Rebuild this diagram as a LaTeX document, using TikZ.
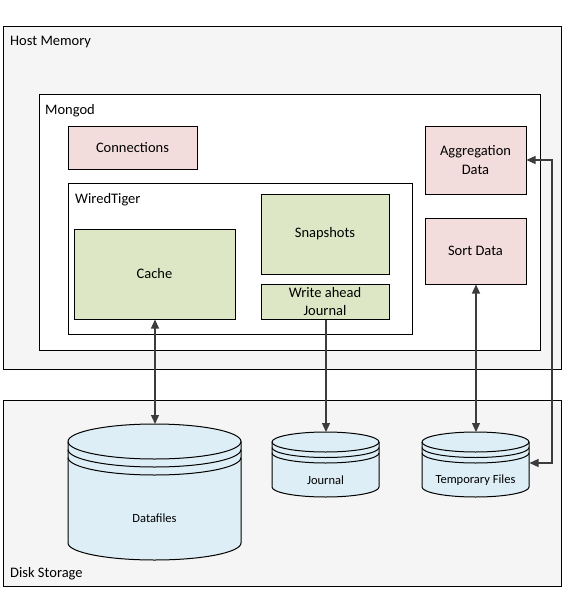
\documentclass[tikz,border=0pt]{standalone}
\usepackage{fontspec}
\setmainfont{Carlito}
\usetikzlibrary{arrows.meta}
\definecolor{outerfill}{RGB}{245,245,245}
\definecolor{pinkfill}{RGB}{242,221,220}
\definecolor{greenfill}{RGB}{221,231,197}
\definecolor{cylfill}{RGB}{222,238,246}
\definecolor{linegray}{RGB}{60,60,60}
\tikzset{
  container/.style={draw=black, line width=1pt, inner sep=0pt, anchor=north west},
  pinkbox/.style={draw=black, line width=1pt, fill=pinkfill, inner sep=0pt, align=center, font=\fontsize{14.5}{18.5}\selectfont},
  greenbox/.style={draw=black, line width=1pt, fill=greenfill, inner sep=0pt, align=center, font=\fontsize{14.5}{18.5}\selectfont},
  title/.style={anchor=base west, inner sep=0pt, font=\fontsize{14.5}{18}\selectfont},
  cyllabel/.style={inner sep=0pt, font=\fontsize{12.5}{15}\selectfont},
  cylline/.style={draw=black, line width=1pt},
  conn/.style={draw=linegray, line width=1.2pt},
  tip/.style={-{Triangle[length=9pt,width=8pt]}},
  tips/.style={{Triangle[length=9pt,width=8pt]}-{Triangle[length=9pt,width=8pt]}}
}
\begin{document}
\begin{tikzpicture}[x=1pt,y=-1pt]
\useasboundingbox (0,0) rectangle (580,594);
\fill[white] (0,0) rectangle (580,594);

% outer containers
\node[container, fill=outerfill, minimum width=558pt, minimum height=343pt] (host) at (3,26) {};
\node[container, fill=outerfill, minimum width=558pt, minimum height=186pt] (disk) at (3,400) {};
\node[title] (hostlbl) at (10,46) {Host Memory};
\node[title] (disklbl) at (10,577) {Disk Storage};

% mongod
\node[container, fill=white, minimum width=501pt, minimum height=256pt] (mongod) at (39,94) {};
\node[title] (mongodlbl) at (45,114) {Mongod};

\node[pinkbox, minimum width=129pt, minimum height=43pt] (conns) at (132.5,147.5) {Connections};
\node[pinkbox, minimum width=101pt, minimum height=68pt] (agg) at (475.5,160) {Aggregation\\Data};
\node[pinkbox, minimum width=101pt, minimum height=66pt] (sort) at (475.5,251) {Sort Data};

% wiredtiger
\node[container, fill=white, minimum width=344pt, minimum height=151pt] (wt) at (68,183) {};
\node[title] (wtlbl) at (75,203) {WiredTiger};
\node[greenbox, minimum width=161pt, minimum height=90pt] (cache) at (154.5,274) {Cache};
\node[greenbox, minimum width=128pt, minimum height=80pt] (snap) at (325,234) {Snapshots};
\node[greenbox, minimum width=128pt, minimum height=35pt] (wal) at (325,301.5) {Write ahead\\Journal};

% cylinders
% Datafiles
\fill[cylfill] (68,441.5) -- (68,543) arc[start angle=180,end angle=360,x radius=86.5pt,y radius=17pt] -- (241,441.5) arc[start angle=0,end angle=180,x radius=86.5pt,y radius=17.5pt] -- cycle;
\draw[cylline] (68,441.5) -- (68,543) arc[start angle=180,end angle=360,x radius=86.5pt,y radius=17pt] -- (241,441.5) arc[start angle=0,end angle=180,x radius=86.5pt,y radius=17.5pt] -- cycle;
\draw[cylline] (68,441.5) arc[start angle=180,end angle=360,x radius=86.5pt,y radius=17.5pt];
\draw[cylline] (68,449.5) arc[start angle=180,end angle=360,x radius=86.5pt,y radius=17.5pt];
\draw[cylline] (68,457.5) arc[start angle=180,end angle=360,x radius=86.5pt,y radius=17.5pt];
\node[cyllabel] (datafiles) at (154.5,518) {Datafiles};
\coordinate (dftop) at (155,424);

% Journal
\fill[cylfill] (272,442) -- (272,487) arc[start angle=180,end angle=360,x radius=53.5pt,y radius=10pt] -- (379,442) arc[start angle=0,end angle=180,x radius=53.5pt,y radius=10pt] -- cycle;
\draw[cylline] (272,442) -- (272,487) arc[start angle=180,end angle=360,x radius=53.5pt,y radius=10pt] -- (379,442) arc[start angle=0,end angle=180,x radius=53.5pt,y radius=10pt] -- cycle;
\draw[cylline] (272,442) arc[start angle=180,end angle=360,x radius=53.5pt,y radius=10pt];
\draw[cylline] (272,447.5) arc[start angle=180,end angle=360,x radius=53.5pt,y radius=10pt];
\draw[cylline] (272,453) arc[start angle=180,end angle=360,x radius=53.5pt,y radius=10pt];
\node[cyllabel] (journal) at (325.5,480) {Journal};
\coordinate (jtop) at (326,432);

% Temporary Files
\fill[cylfill] (422,442) -- (422,487) arc[start angle=180,end angle=360,x radius=53.5pt,y radius=10pt] -- (529,442) arc[start angle=0,end angle=180,x radius=53.5pt,y radius=10pt] -- cycle;
\draw[cylline] (422,442) -- (422,487) arc[start angle=180,end angle=360,x radius=53.5pt,y radius=10pt] -- (529,442) arc[start angle=0,end angle=180,x radius=53.5pt,y radius=10pt] -- cycle;
\draw[cylline] (422,442) arc[start angle=180,end angle=360,x radius=53.5pt,y radius=10pt];
\draw[cylline] (422,447.5) arc[start angle=180,end angle=360,x radius=53.5pt,y radius=10pt];
\draw[cylline] (422,453) arc[start angle=180,end angle=360,x radius=53.5pt,y radius=10pt];
\node[cyllabel] (temp) at (475.5,480) {Temporary Files};
\coordinate (ttop) at (476,432);
\coordinate (tright) at (529.5,463);
\coordinate (bendA) at (552,160);
\coordinate (bendB) at (552,463);

% connectors
\draw[conn, tips] (cache.south -| dftop) -- (dftop);
\draw[conn, tip] (wal.south -| jtop) -- (jtop);
\draw[conn, tips] (sort.south -| ttop) -- (ttop);
\draw[conn, tips] (agg.east) -- (bendA) -- (bendB) -- (tright);
\end{tikzpicture}
\end{document}
